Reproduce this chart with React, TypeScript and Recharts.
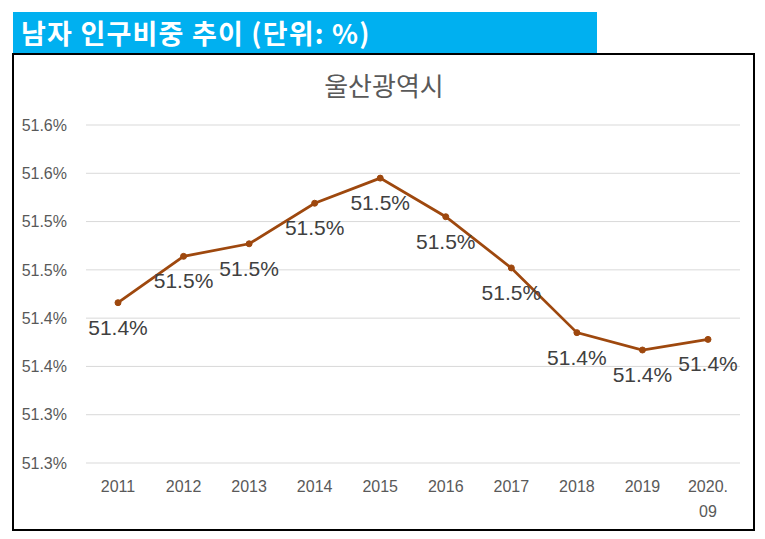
import React from 'react';
import { LineChart, Line, XAxis, YAxis, CartesianGrid, LabelList } from 'recharts';

const years = ['2011', '2012', '2013', '2014', '2015', '2016', '2017', '2018', '2019', '2020.09'];
const maleShare = [51.416, 51.464, 51.477, 51.519, 51.545, 51.505, 51.452, 51.385, 51.367, 51.378];
const yTicks = [51.25, 51.3, 51.35, 51.4, 51.45, 51.5, 51.55, 51.6];
const yTickLabels = ['51.3%', '51.3%', '51.4%', '51.4%', '51.5%', '51.5%', '51.6%', '51.6%'];

const data = years.map((year, i) => ({ year, value: maleShare[i] }));

const narrow = '"Liberation Sans Narrow", "Liberation Sans", Arial, sans-serif';

const XTick = (props: any) => {
  const { x, y, payload } = props;
  const label: string = payload.value;
  const lines = label.includes('.') ? [label.slice(0, label.indexOf('.') + 1), label.slice(label.indexOf('.') + 1)] : [label];
  return (
    <text x={x} y={y} textAnchor="middle" fill="#595959" fontSize={16} fontFamily='"Liberation Sans", Arial, sans-serif'>
      {lines.map((t, i) => (
        <tspan key={i} x={x} dy={i === 0 ? '0.71em' : 25}>
          {t}
        </tspan>
      ))}
    </text>
  );
};

const PointLabel = (props: any) => {
  const { x, y, value } = props;
  return (
    <text x={x} y={y + 32} textAnchor="middle" fill="#404040" fontSize={21} fontFamily={narrow}>
      {Number(value).toFixed(1)}%
    </text>
  );
};

export default function App() {
  return (
    <div style={{ position: 'absolute', left: 0, top: 0, width: 765, height: 539, background: '#fff' }}>
      <div
        style={{
          position: 'absolute',
          left: 13,
          top: 12,
          width: 584,
          height: 41,
          background: '#00B0F0',
          color: '#fff',
          fontFamily: '"Noto Sans CJK KR", sans-serif',
          fontWeight: 700,
          fontSize: 27,
          letterSpacing: 1.2,
          lineHeight: '41px',
          paddingLeft: 8,
          boxSizing: 'border-box',
          whiteSpace: 'nowrap',
        }}
      >
        남자 인구비중 추이 (단위: %)
      </div>
      <div
        style={{
          position: 'absolute',
          left: 12,
          top: 53,
          width: 743,
          height: 478,
          border: '2px solid #000',
          boxSizing: 'border-box',
        }}
      />
      <div
        style={{
          position: 'absolute',
          left: 14,
          top: 70,
          width: 740,
          textAlign: 'center',
          color: '#595959',
          fontFamily: '"Noto Sans CJK KR", sans-serif',
          fontSize: 26,
          lineHeight: '30px',
        }}
      >
        울산광역시
      </div>
      <div style={{ position: 'absolute', left: 14, top: 55 }}>
        <LineChart width={740} height={474} data={data} margin={{ top: 70, right: 14, bottom: 0, left: 0 }}>
          <CartesianGrid vertical={false} stroke="#D9D9D9" strokeWidth={1} />
          <XAxis
            dataKey="year"
            axisLine={false}
            tickLine={false}
            tickSize={0}
            tickMargin={18}
            height={66}
            interval={0}
            padding={{ left: 32, right: 32 }}
            tick={<XTick />}
          />
          <YAxis
            type="number"
            domain={[51.25, 51.6]}
            ticks={yTicks}
            interval={0}
            axisLine={false}
            tickLine={false}
            tickSize={0}
            tickMargin={19}
            width={72}
            tick={{ fill: '#595959', fontSize: 16, fontFamily: narrow }}
            tickFormatter={(_v: number, i: number) => yTickLabels[i]}
          />
          <Line
            type="linear"
            dataKey="value"
            stroke="#9E480E"
            strokeWidth={2.75}
            dot={{ r: 3, fill: '#9E480E', stroke: '#9E480E', strokeWidth: 1 }}
            isAnimationActive={false}
          >
            <LabelList dataKey="value" content={<PointLabel />} />
          </Line>
        </LineChart>
      </div>
    </div>
  );
}
